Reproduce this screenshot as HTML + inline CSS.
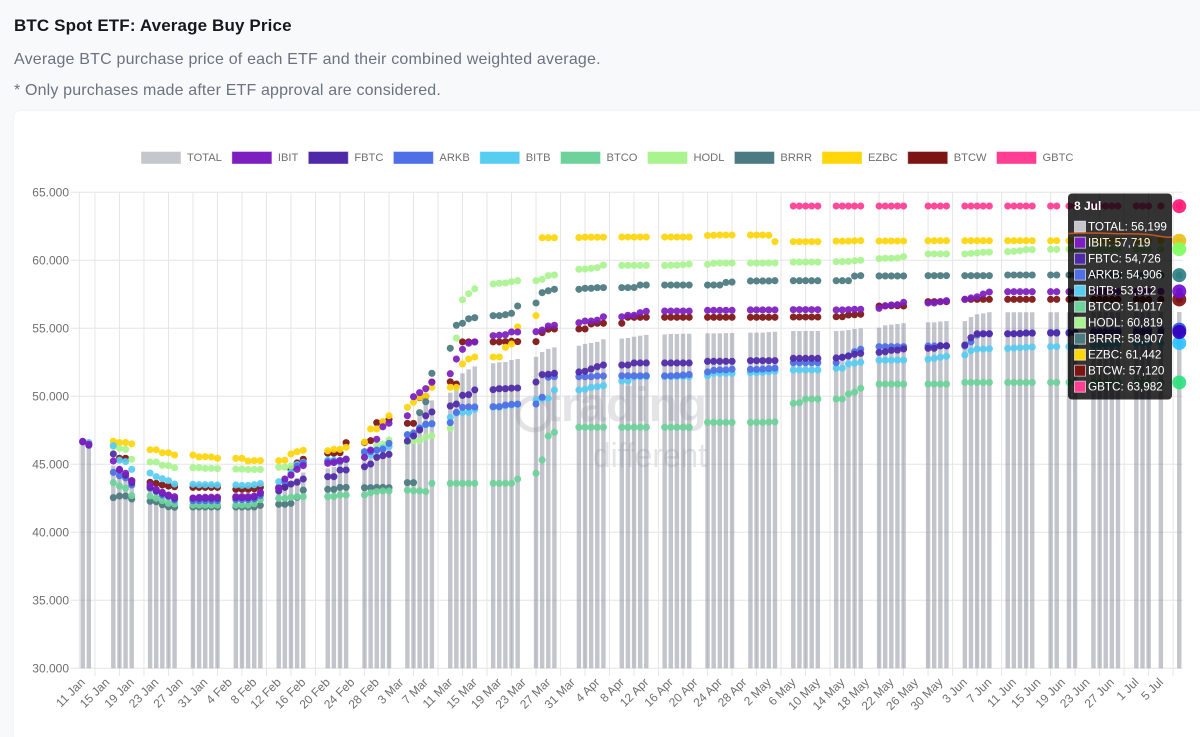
<!DOCTYPE html>
<html lang="en">
<head>
<meta charset="utf-8">
<title>BTC Spot ETF: Average Buy Price</title>
<style>
  html,body{margin:0;padding:0;width:1200px;height:737px;overflow:hidden;background:#f8f9fb;font-family:"Liberation Sans",sans-serif;}
  .t{position:absolute;left:14px;white-space:nowrap;}
  #title{top:16px;font-size:17px;font-weight:700;color:#16181d;line-height:20px;letter-spacing:.13px;}
  #sub1{top:50px;font-size:16px;color:#6b7280;line-height:20px;letter-spacing:.19px;}
  #sub2{top:81px;font-size:16px;color:#6b7280;line-height:20px;letter-spacing:.16px;}
  #card{position:absolute;left:14px;top:111px;width:1186px;height:626px;background:#fff;border-radius:6px 0 0 0;box-shadow:0 0 2px rgba(0,0,0,.06);}
  #chart{position:absolute;left:0;top:0;}
  text{font-family:"Liberation Sans",sans-serif;}
</style>
</head>
<body>
<div id="title" class="t">BTC Spot ETF: Average Buy Price</div>
<div id="sub1" class="t">Average BTC purchase price of each ETF and their combined weighted average.</div>
<div id="sub2" class="t">* Only purchases made after ETF approval are considered.</div>
<div id="card"></div>
<svg id="chart" width="1200" height="737" viewBox="0 0 1200 737" xmlns="http://www.w3.org/2000/svg"></svg>
<script>
// Values are USD thousands.
const dates = [
"11 Jan","12 Jan",
"16 Jan","17 Jan","18 Jan","19 Jan",
"22 Jan","23 Jan","24 Jan","25 Jan","26 Jan",
"29 Jan","30 Jan","31 Jan","1 Feb","2 Feb",
"5 Feb","6 Feb","7 Feb","8 Feb","9 Feb",
"12 Feb","13 Feb","14 Feb","15 Feb","16 Feb",
"20 Feb","21 Feb","22 Feb","23 Feb",
"26 Feb","27 Feb","28 Feb","29 Feb","1 Mar",
"4 Mar","5 Mar","6 Mar","7 Mar","8 Mar",
"11 Mar","12 Mar","13 Mar","14 Mar","15 Mar",
"18 Mar","19 Mar","20 Mar","21 Mar","22 Mar",
"25 Mar","26 Mar","27 Mar","28 Mar",
"1 Apr","2 Apr","3 Apr","4 Apr","5 Apr",
"8 Apr","9 Apr","10 Apr","11 Apr","12 Apr",
"15 Apr","16 Apr","17 Apr","18 Apr","19 Apr",
"22 Apr","23 Apr","24 Apr","25 Apr","26 Apr",
"29 Apr","30 Apr","1 May","2 May","3 May",
"6 May","7 May","8 May","9 May","10 May",
"13 May","14 May","15 May","16 May","17 May",
"20 May","21 May","22 May","23 May","24 May",
"28 May","29 May","30 May","31 May",
"3 Jun","4 Jun","5 Jun","6 Jun","7 Jun",
"10 Jun","11 Jun","12 Jun","13 Jun","14 Jun",
"17 Jun","18 Jun","20 Jun","21 Jun",
"24 Jun","25 Jun","26 Jun","27 Jun","28 Jun",
"1 Jul","2 Jul","3 Jul","5 Jul","8 Jul"];
const _ = null;
const TOTAL = [
46.6,46.5,
44.9,44.5,44.2,43.7,
43.3,43.05,42.9,42.7,42.55,
42.5,42.5,42.5,42.5,42.5,
42.5,42.5,42.5,42.55,42.8,
43.2,43.4,43.7,44.0,44.4,
44.7,44.8,45.0,45.2,
45.4,45.7,46.1,46.4,46.7,
46.9,47.6,48.8,49.5,49.7,
50.27,51.07,51.69,51.98,52.2,
52.43,52.5,52.52,52.67,52.74,
52.9,53.26,53.48,53.6,
53.72,53.85,53.92,54.0,54.19,
54.24,54.29,54.38,54.46,54.51,
54.55,54.58,54.58,54.6,54.6,
54.63,54.63,54.63,54.65,54.65,
54.68,54.68,54.68,54.72,54.75,
54.8,54.8,54.8,54.8,54.8,
54.8,54.82,54.87,54.95,55.0,
55.05,55.22,55.27,55.32,55.37,
55.44,55.44,55.5,55.53,
55.53,55.83,56.03,56.1,56.18,
56.18,56.18,56.18,56.18,56.18,
56.18,56.18,56.18,56.18,
56.19,56.19,56.19,56.19,56.19,
56.19,56.19,56.19,56.19,56.199];
const IBIT = [
46.69,46.48,
45.24,44.63,44.34,43.8,
43.48,43.16,42.94,42.74,42.62,
42.52,42.56,42.58,42.58,42.58,
42.62,42.62,42.62,42.67,42.94,
43.24,43.92,44.21,44.63,44.9,
45.07,45.12,45.27,45.37,
45.51,46.05,46.84,47.76,48.02,
48.57,49.97,50.27,50.56,51.03,
51.66,52.74,53.45,53.9,54.0,
54.46,54.49,54.53,54.73,54.73,
54.75,54.87,55.17,55.22,
55.41,55.53,55.53,55.6,55.85,
55.85,55.96,55.96,56.15,56.25,
56.27,56.27,56.27,56.27,56.27,
56.32,56.32,56.32,56.32,56.32,
56.35,56.35,56.35,56.35,56.35,
56.37,56.37,56.37,56.37,56.37,
56.35,56.35,56.37,56.4,56.4,
56.47,56.66,56.72,56.74,56.91,
56.86,56.86,56.96,57.03,
57.13,57.23,57.32,57.52,57.67,
57.69,57.69,57.69,57.69,57.69,
57.69,57.69,57.69,57.69,
57.7,57.7,57.7,57.7,57.7,
57.71,57.71,57.71,57.71,57.719];
const FBTC = [
46.65,46.4,
45.76,44.58,44.2,43.65,
43.3,43.06,42.87,42.7,42.5,
42.5,42.5,42.5,42.5,42.5,
42.55,42.55,42.55,42.6,42.87,
43.04,43.3,43.55,43.68,43.92,
44.09,44.09,44.58,44.58,
44.82,45.02,45.51,45.63,45.73,
46.71,47.08,47.52,48.57,48.85,
49.29,49.43,50.07,50.12,50.47,
50.49,50.56,50.56,50.6,50.61,
51.05,51.59,51.62,51.69,
51.79,51.84,52.01,52.18,52.3,
52.3,52.3,52.45,52.45,52.45,
52.45,52.45,52.45,52.45,52.45,
52.57,52.57,52.57,52.57,52.57,
52.62,52.62,52.62,52.62,52.62,
52.79,52.79,52.79,52.79,52.79,
52.82,52.87,52.96,53.09,53.16,
53.23,53.28,53.38,53.4,53.48,
53.53,53.53,53.72,53.72,
53.77,54.31,54.6,54.6,54.6,
54.6,54.6,54.62,54.65,54.65,
54.65,54.65,54.65,54.65,
54.7,54.7,54.7,54.7,54.7,
54.72,54.72,54.72,54.72,54.726];
const ARKB = [
_,_,
44.41,44.16,44.0,43.48,
43.24,43.0,42.74,42.62,42.38,
42.32,42.32,42.32,42.32,42.32,
42.4,42.4,42.4,42.45,42.7,
43.25,43.7,44.2,44.87,45.1,
45.2,45.2,45.2,45.35,
45.93,45.93,46.05,46.1,46.54,
47.16,47.28,47.65,47.94,47.99,
48.06,48.82,49.19,49.22,49.22,
49.24,49.24,49.36,49.41,49.43,
49.43,49.93,51.4,51.44,
51.44,51.44,51.44,51.49,51.49,
51.51,51.51,51.51,51.51,51.51,
51.5,51.5,51.53,51.56,51.6,
51.79,51.91,51.94,51.94,51.99,
51.98,51.98,52.0,52.03,52.07,
52.47,52.47,52.47,52.47,52.47,
52.47,52.87,52.98,53.28,53.46,
53.65,53.65,53.65,53.65,53.65,
53.7,53.7,53.7,53.7,
53.7,54.0,54.5,54.6,54.6,
54.6,54.6,54.6,54.65,54.65,
54.7,54.7,54.7,54.7,
54.8,54.8,54.8,54.85,54.85,
54.88,54.88,54.9,54.9,54.906];
const BITB = [
46.66,46.6,
46.37,45.3,45.2,44.63,
44.36,44.09,43.94,43.8,43.55,
43.53,43.5,43.5,43.5,43.48,
43.48,43.45,43.45,43.5,43.58,
43.72,43.9,44.4,44.98,45.15,
45.3,45.3,45.3,45.4,
45.8,45.7,46.0,46.2,46.3,
47.2,47.1,47.7,47.9,47.95,
48.45,48.75,48.82,48.82,49.04,
49.2,49.2,49.3,49.35,49.4,
49.73,49.85,49.85,50.46,
50.46,50.51,50.66,50.71,50.78,
51.13,51.13,51.4,51.44,51.44,
51.45,51.45,51.45,51.45,51.45,
51.51,51.69,51.69,51.69,51.69,
51.74,51.74,51.76,51.8,51.85,
51.93,51.93,51.93,51.93,51.93,
52.06,52.06,52.38,52.43,52.5,
52.65,52.65,52.66,52.66,52.66,
52.72,52.79,52.87,52.94,
53.04,53.35,53.48,53.48,53.5,
53.52,53.55,53.57,53.6,53.62,
53.65,53.65,53.65,53.65,
53.75,53.75,53.8,53.8,53.85,
53.88,53.9,53.9,53.91,53.912];
const BTCO = [
_,_,
43.65,43.4,43.24,42.7,
42.67,42.5,42.32,42.13,42.08,
42.0,42.0,42.0,42.0,42.0,
42.0,42.0,42.0,42.1,42.4,
42.5,42.5,42.57,42.62,42.62,
42.62,42.62,42.74,42.74,
42.74,42.9,43.0,43.04,43.04,
43.1,43.05,43.05,43.0,43.6,
43.6,43.6,43.6,43.6,43.6,
43.6,43.6,43.6,43.6,43.92,
44.34,45.32,47.08,47.35,
47.72,47.72,47.72,47.72,47.72,
47.72,47.72,47.72,47.72,47.72,
47.72,47.72,47.72,47.72,47.72,
48.08,48.08,48.08,48.08,48.08,
48.08,48.08,48.08,48.1,48.12,
49.48,49.53,49.8,49.8,49.8,
49.8,49.8,50.17,50.31,50.59,
50.9,50.9,50.9,50.9,50.9,
50.9,50.9,50.9,50.9,
51.02,51.02,51.02,51.02,51.02,
51.02,51.02,51.02,51.02,51.02,
51.02,51.02,51.02,51.02,
51.02,51.02,51.02,51.02,51.02,
51.02,51.02,51.02,51.02,51.017];
const HODL = [
_,_,
46.3,46.17,46.1,45.37,
45.17,45.17,44.93,44.9,44.75,
44.75,44.75,44.7,44.7,44.68,
44.65,44.65,44.62,44.62,44.62,
44.78,44.78,44.87,44.95,45.05,
45.2,45.2,45.2,45.3,
45.5,46.0,46.4,46.5,46.79,
46.6,46.74,46.74,47.0,47.1,
47.65,54.28,57.1,57.55,57.9,
58.26,58.31,58.33,58.43,58.5,
58.5,58.6,58.87,58.92,
59.34,59.36,59.41,59.46,59.65,
59.63,59.63,59.63,59.63,59.63,
59.62,59.64,59.64,59.67,59.72,
59.7,59.78,59.8,59.8,59.8,
59.8,59.8,59.8,59.8,59.8,
59.87,59.87,59.87,59.87,59.87,
59.9,59.9,59.92,59.97,60.0,
60.12,60.15,60.15,60.17,60.27,
60.47,60.47,60.47,60.47,
60.47,60.51,60.54,60.59,60.6,
60.63,60.66,60.7,60.78,60.78,
60.8,60.8,60.8,60.8,
60.8,60.8,60.81,60.81,60.81,
60.81,60.82,60.82,60.82,60.819];
const BRRR = [
_,_,
42.55,42.67,42.67,42.45,
42.28,42.25,42.03,41.88,41.84,
41.86,41.86,41.86,41.86,41.86,
41.86,41.86,41.86,41.86,41.98,
42.06,42.06,42.13,42.57,43.1,
43.16,43.16,43.3,43.3,
43.28,43.28,43.3,43.3,43.28,
43.65,43.65,48.8,49.6,51.69,
53.53,55.22,55.37,55.7,55.78,
55.93,55.93,56.0,56.1,56.64,
56.86,57.62,57.76,57.87,
57.87,57.94,57.94,57.99,57.99,
57.99,57.99,58.0,58.18,58.18,
58.18,58.18,58.18,58.18,58.18,
58.18,58.18,58.18,58.37,58.4,
58.48,58.48,58.48,58.48,58.5,
58.5,58.5,58.5,58.5,58.5,
58.5,58.5,58.5,58.84,58.87,
58.85,58.85,58.85,58.85,58.85,
58.87,58.87,58.87,58.87,
58.87,58.87,58.87,58.87,58.87,
58.92,58.92,58.92,58.92,58.92,
58.92,58.92,58.92,58.92,
58.92,58.92,58.92,58.92,58.92,
58.91,58.91,58.91,58.91,58.907];
const EZBC = [
_,_,
46.7,46.6,46.6,46.5,
46.07,46.07,45.85,45.85,45.68,
45.68,45.54,45.56,45.54,45.44,
45.44,45.44,45.24,45.27,45.27,
45.27,45.3,45.76,45.93,46.03,
46.0,46.1,46.1,46.25,
46.64,47.6,47.6,48.13,48.57,
49.19,49.56,49.93,50.02,50.66,
50.66,50.66,52.38,52.74,52.89,
52.89,52.89,53.6,53.84,55.1,
55.93,61.66,61.66,61.66,
61.67,61.7,61.7,61.7,61.7,
61.71,61.71,61.71,61.71,61.71,
61.71,61.71,61.71,61.71,61.71,
61.82,61.84,61.86,61.86,61.86,
61.86,61.86,61.86,61.84,61.37,
61.37,61.37,61.37,61.37,61.37,
61.41,61.41,61.41,61.43,61.45,
61.42,61.42,61.42,61.42,61.42,
61.44,61.44,61.44,61.44,
61.44,61.44,61.44,61.44,61.44,
61.44,61.44,61.44,61.44,61.44,
61.44,61.44,61.44,61.44,
61.44,61.44,61.44,61.44,61.44,
61.44,61.44,61.44,61.44,61.442];
const BTCW = [
_,_,
_,45.44,45.44,43.8,
43.68,43.6,43.48,43.4,43.35,
43.3,43.3,43.3,43.3,43.3,
43.16,43.16,43.16,43.2,43.3,
43.3,43.35,44.63,45.1,45.37,
45.81,45.81,45.85,46.59,
46.6,46.74,48.06,48.1,48.3,
48.01,48.01,49.9,50.0,51.05,
51.07,50.9,54.0,54.0,54.0,
54.0,54.0,54.02,54.05,54.02,
54.02,54.68,54.93,54.95,
54.95,54.95,55.32,55.37,55.37,
55.37,55.81,55.81,55.81,55.81,
55.81,55.81,55.81,55.81,55.81,
55.81,55.81,55.81,55.81,55.81,
55.81,55.81,55.81,55.81,55.81,
55.83,55.83,55.83,55.83,55.83,
55.85,55.85,55.98,56.0,56.03,
56.64,56.64,56.66,56.66,56.64,
56.96,56.96,56.96,56.96,
57.13,57.13,57.13,57.13,57.13,
57.13,57.13,57.13,57.13,57.13,
57.13,57.13,57.13,57.13,
57.13,57.13,57.13,57.13,57.13,
57.13,57.12,57.12,57.12,57.12];
const GBTC = [
_,_,
_,_,_,_,
_,_,_,_,_,
_,_,_,_,_,
_,_,_,_,_,
_,_,_,_,_,
_,_,_,_,
_,_,_,_,_,
_,_,_,_,_,
_,_,_,_,_,
_,_,_,_,_,
_,_,_,_,
_,_,_,_,_,
_,_,_,_,_,
_,_,_,_,_,
_,_,_,_,_,
_,_,_,_,_,
63.99,63.99,63.99,63.99,63.99,
63.99,63.99,63.99,63.99,63.99,
63.99,63.99,63.99,63.99,63.99,
63.99,63.99,63.99,63.99,
63.99,63.99,63.99,63.99,63.99,
63.99,63.99,63.99,63.99,63.99,
63.99,63.99,63.99,63.99,
63.99,63.99,63.99,63.99,63.99,
63.99,63.99,63.99,63.99,63.982];
const seriesNames = ["TOTAL","IBIT","FBTC","ARKB","BITB","BTCO","HODL","BRRR","EZBC","BTCW","GBTC"];
const seriesValues = [TOTAL,IBIT,FBTC,ARKB,BITB,BTCO,HODL,BRRR,EZBC,BTCW,GBTC];
const yTickValues = [30,35,40,45,50,55,60,65];
const yTickLabels = ["30.000","35.000","40.000","45.000","50.000","55.000","60.000","65.000"];
const xTickLabels = ["11 Jan","15 Jan","19 Jan","23 Jan","27 Jan","31 Jan","4 Feb","8 Feb","12 Feb","16 Feb","20 Feb","24 Feb","28 Feb","3 Mar","7 Mar","11 Mar","15 Mar","19 Mar","23 Mar","27 Mar","31 Mar","4 Apr","8 Apr","12 Apr","16 Apr","20 Apr","24 Apr","28 Apr","2 May","6 May","10 May","14 May","18 May","22 May","26 May","30 May","3 Jun","7 Jun","11 Jun","15 Jun","19 Jun","23 Jun","27 Jun","1 Jul","5 Jul"];
const tooltipTitle = "8 Jul";
const tooltipValues = ["56,199","57,719","54,726","54,906","53,912","51,017","60,819","58,907","61,442","57,120","63,982"];

const colors = {TOTAL:"#c6c7cc",IBIT:"#7d1fc0",FBTC:"#4f2aa8",ARKB:"#4f6fe6",BITB:"#58cdf2",BTCO:"#6dd39b",HODL:"#a9f48f",BRRR:"#4b7a80",EZBC:"#ffd60a",BTCW:"#7d1414",GBTC:"#ff3d92"};
const hover = {TOTAL:"#b9bac2",IBIT:"#7010d0",FBTC:"#3300c0",ARKB:"#3050e0",BITB:"#30c0ff",BTCO:"#30e080",HODL:"#80ff60",BRRR:"#2f8080",EZBC:"#e8c020",BTCW:"#801010",GBTC:"#ff1a75"};

const NS = "http://www.w3.org/2000/svg";
const svg = document.getElementById("chart");
const MONTHS = {Jan:0,Feb:1,Mar:2,Apr:3,May:4,Jun:5,Jul:6};
function dayIndex(s){const p=s.split(" ");return Math.round((Date.UTC(2024,MONTHS[p[1]],+p[0])-Date.UTC(2024,0,11))/864e5);}
function xScale(d){return 82.7+d*6.126;}
function yScale(v){return 668.3-(v-30)*13.6;}
function make(parent,tag,attrs,txt){const e=document.createElementNS(NS,tag);for(const k in attrs)e.setAttribute(k,attrs[k]);if(txt!=null)e.textContent=txt;parent.appendChild(e);return e;}

// grid
const gridG = make(svg,"g",{});


yTickValues.forEach(function(v,i){
  const ln = make(gridG,"line",{x1:70.5,x2:1182.7,y1:yScale(v),y2:yScale(v),stroke:"#e6e6e8","stroke-width":1});
  
  
  const lb = make(svg,"text",{x:69,y:yScale(v)+4,"text-anchor":"end","font-size":12,fill:"#6f6f6f"},yTickLabels[i]);
  
  
});
const axisLeft = make(gridG,"line",{x1:79.3,x2:79.3,y1:192,y2:668.3,stroke:"#e6e6e8","stroke-width":1});


xTickLabels.forEach(function(s){
  const d = dayIndex(s);
  // vertical gridlines sit two days right of their label in the source chart
  const gx = xScale(d+2);
  const ln = make(gridG,"line",{x1:gx,x2:gx,y1:192,y2:676,stroke:"#e6e6e8","stroke-width":1});
  
  
  const lx = xScale(d)+3, ly = 683;
  const lb = make(svg,"text",{x:lx,y:ly,"text-anchor":"end","font-size":12,fill:"#6f6f6f",transform:"rotate(-45 "+lx+" "+ly+")"},s);
  
  
});

// watermark
const wm = make(svg,"g",{opacity:0.75});


const wmRing = make(wm,"circle",{cx:534,cy:414,r:16,fill:"none",stroke:"#d9d9dc","stroke-width":5});


const wmT1 = make(wm,"text",{x:545,y:421,"font-size":48,"font-weight":700,fill:"#dcdcdf",textLength:162,lengthAdjust:"spacingAndGlyphs"},"trading");


const wmT2 = make(wm,"text",{x:593,y:467,"font-size":34,fill:"#dcdcdf",textLength:114,lengthAdjust:"spacingAndGlyphs"},"different");



// bars
const barG = make(svg,"g",{});


dates.forEach(function(s,i){
  const v = TOTAL[i];
  if(v==null) return;
  const x = xScale(dayIndex(s)), y = yScale(v);
  const r = make(barG,"rect",{x:x-2.2,y:y,width:4.4,height:yScale(30)-y,fill:"rgba(128,130,146,.47)"});
  
  
});

// dots: first series painted last
for(let k=seriesNames.length-1;k>=1;k--){
  const name = seriesNames[k], vals = seriesValues[k];
  const g = make(svg,"g",{opacity:0.93});
  
  
  dates.forEach(function(s,i){
    if(vals[i]==null) return;
    const c = make(g,"circle",{cx:xScale(dayIndex(s)),cy:yScale(vals[i]),r:3.55,fill:colors[name]});
    
    
  });
}

// hovered points at last date
for(let k=seriesNames.length-1;k>=1;k--){
  const name = seriesNames[k], vals = seriesValues[k], last = dates.length-1;
  const c = make(svg,"circle",{cx:xScale(dayIndex(dates[last])),cy:yScale(vals[last]),r:7,fill:hover[name],opacity:0.92});
  
  
}

// legend
const legend = make(svg,"g",{});


let lgx = 141;
seriesNames.forEach(function(name){
  const item = make(legend,"g",{});
  
  
  make(item,"rect",{x:lgx+.5,y:152,width:39,height:11.5,fill:colors[name],stroke:colors[name],"stroke-opacity":.6,"stroke-width":1});
  const t = make(item,"text",{x:lgx+46,y:161,"font-size":11.15,fill:"#6f6f6f"},name);
  lgx = lgx+46+t.getComputedTextLength()+10;
});

// tooltip
const tip = make(svg,"g",{});


const tipBg = make(tip,"rect",{x:1068,y:193.5,width:104,height:206,rx:4,fill:"rgba(0,0,0,.8)"});


const tipT = make(tip,"text",{x:1074,y:210,"font-size":12,"font-weight":700,fill:"#fff"},tooltipTitle);


seriesNames.forEach(function(name,i){
  const y0 = 220.7+i*16;
  const sw = make(tip,"rect",{x:1074.5,y:y0+.5,width:11,height:11,fill:colors[name],stroke:"rgba(255,255,255,.6)","stroke-width":1});
  
  
  const t = make(tip,"text",{x:1088,y:y0+9.8,"font-size":11.7,fill:"#fff"},name+": "+tooltipValues[i]);
  
  
});
const orange = make(svg,"path",{d:"M1068 233.6C1085 232.6 1100 233 1115 233.6S1140 232.8 1155 235.5 1168 237 1172 237",fill:"none",stroke:"#c8561c","stroke-width":1.5});


</script>
</body>
</html>
